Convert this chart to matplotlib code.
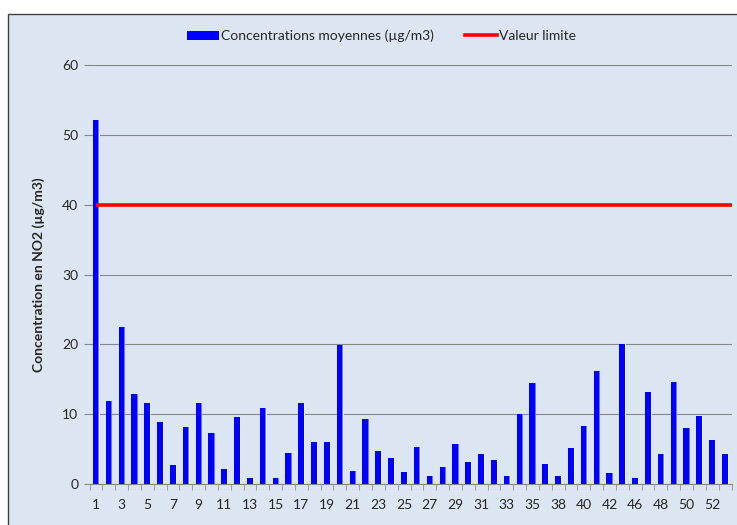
import matplotlib
matplotlib.use("Agg")
import matplotlib.pyplot as plt
from matplotlib.patches import Rectangle
from matplotlib.lines import Line2D
import numpy as np

plt.rcParams['font.family'] = ['Lato', 'DejaVu Sans']

sites = ['1','2','3','4','5','6','7','8','9','10','11','12','13','14','15','16','17','18','19','20',
         '21','22','23','24','25','26','27','28','29','30','31','32','33','34','35','36','38','39','40',
         '41','42','44','46','47','48','49','50','51','52','53']
concentrations = [52.1, 11.9, 22.5, 12.9, 11.6, 8.9, 2.7, 8.2, 11.6, 7.3,
                  2.1, 9.6, 0.9, 10.9, 0.9, 4.4, 11.6, 6.0, 6.0, 19.9,
                  1.9, 9.3, 4.7, 3.7, 1.7, 5.3, 1.2, 2.4, 5.7, 3.2,
                  4.3, 3.4, 1.2, 10.0, 14.5, 2.9, 1.2, 5.2, 8.3, 16.2,
                  1.6, 20.1, 0.9, 13.2, 4.3, 14.6, 8.0, 9.7, 6.3, 4.3]
limit_value = 40
yticks = [0, 10, 20, 30, 40, 50, 60]

W, H = 737, 525
fig = plt.figure(figsize=(W/100, H/100), dpi=100, facecolor='white')
bg = '#DCE6F2'
fig.patches.append(Rectangle((8/W, -0.1), 1.2, 1 - 14/H + 0.1, transform=fig.transFigure,
                             facecolor=bg, edgecolor='#404040', linewidth=1.0, zorder=-10))

ax = fig.add_axes([89.5/W, 1 - 484/H, 642/W, (484 - 65)/H])
ax.set_zorder(1)
ax.patch.set_alpha(0)

x = np.arange(len(sites))
# subtle light glow on the right side of each bar
ax.bar(x + 0.22, concentrations, width=0.14, color='#EEF3FA', edgecolor='none', zorder=2)
ax.bar(x + 0.2, concentrations, width=0.08, color='#7070FF', edgecolor='none', zorder=2.5)
bars = ax.bar(x - 0.02, concentrations, width=0.44, color='#0000FF', edgecolor='none', zorder=3)
ax.hlines(limit_value, x[0], x[-1] + 0.5, color='#FF0000', linewidth=2.6, zorder=4)

ax.set_xlim(-0.5, len(sites) - 0.5)
ax.set_ylim(0, 60)
ax.set_yticks(yticks)
ax.set_yticklabels([str(v) for v in yticks])
ax.yaxis.grid(True, color='#868686', linewidth=0.8, zorder=1)
ax.set_axisbelow(True)

for s in ['top', 'right', 'left']:
    ax.spines[s].set_visible(False)
ax.spines['bottom'].set_color('#868686')
ax.spines['bottom'].set_linewidth(0.8)
ax.spines['bottom'].set_zorder(5)

ax.tick_params(axis='y', length=4, width=0.8, color='#868686', pad=4,
               labelsize=10, labelcolor='#262626')
ax.set_xticks(x[::2])
ax.set_xticklabels(sites[::2])
ax.set_xticks(np.arange(-0.5, len(sites), 1), minor=True)
ax.tick_params(axis='x', which='major', length=0, pad=11, labelsize=10, labelcolor='#262626')
ax.tick_params(axis='x', which='minor', length=4, width=0.8, color='#A0A0A0')

ax.set_ylabel('Concentration en NO2 (µg/m3)', fontsize=10, fontweight='bold', color='#262626')
ax.yaxis.set_label_coords((45 - 89.5)/642, 0.5)

red_handle = Line2D([], [], color='#FF0000', linewidth=2.6)
fig.legend([bars, red_handle], ['Concentrations moyennes (µg/m3)', 'Valeur limite'],
           loc='center', bbox_to_anchor=(381.5/W, 1 - 36/H), ncol=2, frameon=False,
           fontsize=10, handlelength=2.3, handletextpad=0.2, columnspacing=2.2,
           labelcolor='#262626')

fig.savefig('out.png', dpi=100, facecolor='white')
